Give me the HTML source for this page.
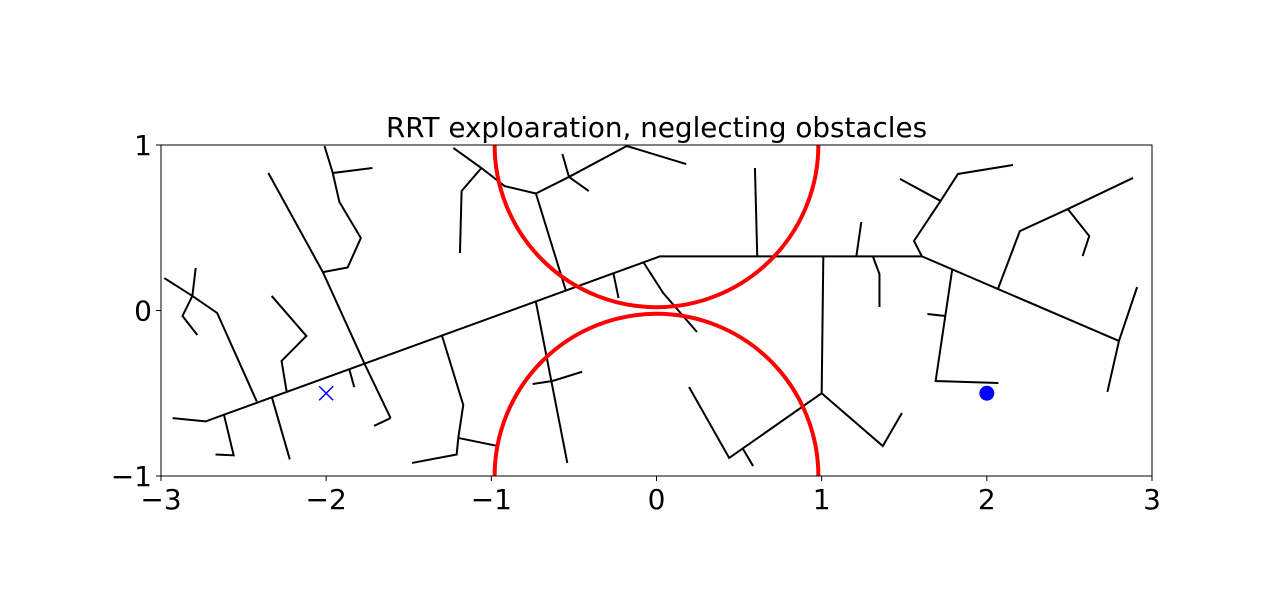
<!DOCTYPE html>
<html><head><meta charset="utf-8"><style>
html,body{margin:0;padding:0;background:#fff;}
svg{display:block;font-family:"DejaVu Sans","Liberation Sans",sans-serif;}
</style></head>
<body>
<svg id="chart" width="1280" height="615" viewBox="0 0 1280 615">
<text x="656.5" y="137" font-size="27.8" text-anchor="middle">RRT exploaration, neglecting obstacles</text>
<g id="plot"></g>
<g id="axes"></g>
</svg>
<script>
const xTicks = [-3, -2, -1, 0, 1, 2, 3];
const yTicks = [-1, 0, 1];
const xTickLabels = ["\u22123", "\u22122", "\u22121", "0", "1", "2", "3"];
const yTickLabels = ["\u22121", "0", "1"];
const obstacleCenters = [[0, 1], [0, -1]];
const obstacleRadii = [0.98, 0.98];
const startPoint = [-2, -0.5];
const goalPoint = [2, -0.5];
const treeBranches = [
  [[-2.93,-0.65],[-2.73,-0.67],[0.02,0.327],[1.607,0.327],[2.80,-0.184]],
  [[-2.62,-0.625],[-2.56,-0.875],[-2.67,-0.87]],
  [[-2.33,-0.52],[-2.22,-0.90]],
  [[-2.42,-0.55],[-2.66,-0.015],[-2.81,0.088],[-2.98,0.196]],
  [[-2.81,0.088],[-2.87,-0.033],[-2.78,-0.148]],
  [[-2.81,0.088],[-2.79,0.257]],
  [[-2.24,-0.486],[-2.27,-0.305],[-2.12,-0.154],[-2.33,0.088]],
  [[-1.86,-0.356],[-1.83,-0.463]],
  [[-1.61,-0.65],[-1.77,-0.317],[-2.02,0.232],[-2.35,0.831]],
  [[-1.61,-0.65],[-1.71,-0.697]],
  [[-2.02,0.232],[-1.87,0.26],[-1.79,0.438],[-1.92,0.656],[-1.96,0.831],[-2.01,0.994]],
  [[-1.96,0.831],[-1.72,0.861]],
  [[-1.30,-0.148],[-1.17,-0.571],[-1.20,-0.770],[-1.21,-0.87],[-1.48,-0.921]],
  [[-1.20,-0.770],[-0.96,-0.819]],
  [[-0.73,0.051],[-0.54,-0.921]],
  [[-0.75,-0.444],[-0.63,-0.426],[-0.45,-0.37]],
  [[-0.55,0.124],[-0.73,0.707],[-0.53,0.807],[-0.18,0.994],[0.18,0.885]],
  [[-0.73,0.707],[-0.92,0.752],[-1.06,0.861],[-1.23,0.982]],
  [[-1.06,0.861],[-1.18,0.722],[-1.19,0.347]],
  [[-0.53,0.807],[-0.57,0.946]],
  [[-0.53,0.807],[-0.41,0.722]],
  [[-0.26,0.22],[-0.23,0.076]],
  [[-0.08,0.293],[0.04,0.106],[0.245,-0.13]],
  [[0.596,0.861],[0.61,0.327]],
  [[1.01,0.327],[1.00,-0.50],[0.44,-0.891],[0.197,-0.462]],
  [[0.52,-0.831],[0.585,-0.94]],
  [[1.00,-0.50],[1.37,-0.819],[1.486,-0.619]],
  [[1.21,0.327],[1.24,0.535]],
  [[1.31,0.327],[1.35,0.22],[1.35,0.021]],
  [[1.607,0.327],[1.559,0.42],[1.72,0.662],[1.825,0.825],[2.158,0.879]],
  [[1.72,0.662],[1.474,0.795]],
  [[2.80,-0.184],[2.91,0.142]],
  [[2.80,-0.184],[2.73,-0.492]],
  [[1.79,0.245],[1.69,-0.426],[2.07,-0.438]],
  [[1.75,-0.033],[1.64,-0.021]],
  [[2.067,0.13],[2.20,0.48],[2.49,0.613],[2.885,0.801]],
  [[2.49,0.613],[2.62,0.45],[2.58,0.329]]
];

const X0 = 161, X1 = 1152, Y0 = 476, Y1 = 145;
function sx(v){ return X0 + (v + 3) / 6 * (X1 - X0); }
function sy(v){ return Y0 - (v + 1) / 2 * (Y0 - Y1); }
const NS = "http://www.w3.org/2000/svg";
const svg = document.getElementById('chart');
const plot = document.getElementById('plot');
const axes = document.getElementById('axes');

const defs = document.createElementNS(NS, 'defs');
defs.innerHTML = '<clipPath id="clip"><rect x="' + X0 + '" y="' + Y1 + '" width="' + (X1 - X0) + '" height="' + (Y0 - Y1) + '"/></clipPath>';
svg.insertBefore(defs, svg.firstChild);
plot.setAttribute('clip-path', 'url(#clip)');

treeBranches.forEach(function(br){
  const pl = document.createElementNS(NS, 'polyline');
  pl.setAttribute('points', br.map(function(p){ return sx(p[0]) + ',' + sy(p[1]); }).join(' '));
  pl.setAttribute('fill', 'none');
  pl.setAttribute('stroke', '#000');
  pl.setAttribute('stroke-width', '2');
  
  
  plot.appendChild(pl);
});

obstacleCenters.forEach(function(c, i){
  const e = document.createElementNS(NS, 'ellipse');
  e.setAttribute('cx', sx(c[0]));
  e.setAttribute('cy', sy(c[1]));
  e.setAttribute('rx', sx(obstacleRadii[i]) - sx(0));
  e.setAttribute('ry', sy(0) - sy(obstacleRadii[i]));
  e.setAttribute('fill', 'none');
  e.setAttribute('stroke', '#ff0000');
  e.setAttribute('stroke-width', '4');
  
  
  plot.appendChild(e);
});

const sxp = sx(startPoint[0]), syp = sy(startPoint[1]);
const cross = document.createElementNS(NS, 'path');
cross.setAttribute('d', 'M' + (sxp - 7) + ',' + (syp - 7) + 'L' + (sxp + 7) + ',' + (syp + 7) + 'M' + (sxp - 7) + ',' + (syp + 7) + 'L' + (sxp + 7) + ',' + (syp - 7));
cross.setAttribute('stroke', '#0000ff');
cross.setAttribute('stroke-width', '1.5');


plot.appendChild(cross);

const dot = document.createElementNS(NS, 'circle');
dot.setAttribute('cx', sx(goalPoint[0]));
dot.setAttribute('cy', sy(goalPoint[1]));
dot.setAttribute('r', '7.5');
dot.setAttribute('fill', '#0000ff');


plot.appendChild(dot);

const frame = document.createElementNS(NS, 'rect');
frame.setAttribute('x', X0); frame.setAttribute('y', Y1);
frame.setAttribute('width', X1 - X0); frame.setAttribute('height', Y0 - Y1);
frame.setAttribute('fill', 'none'); frame.setAttribute('stroke', '#000'); frame.setAttribute('stroke-width', '1');


axes.appendChild(frame);

xTicks.forEach(function(t, i){
  const x = sx(t);
  const l = document.createElementNS(NS, 'line');
  l.setAttribute('x1', x); l.setAttribute('x2', x); l.setAttribute('y1', Y0); l.setAttribute('y2', Y0 + 5);
  l.setAttribute('stroke', '#000');
  
  
  axes.appendChild(l);
  const tx = document.createElementNS(NS, 'text');
  tx.setAttribute('x', x); tx.setAttribute('y', Y0 + 33);
  tx.setAttribute('font-size', '28'); tx.setAttribute('text-anchor', 'middle');
  tx.textContent = xTickLabels[i];
  
  
  axes.appendChild(tx);
});
yTicks.forEach(function(t, i){
  const y = sy(t);
  const l = document.createElementNS(NS, 'line');
  l.setAttribute('x1', X0 - 5); l.setAttribute('x2', X0); l.setAttribute('y1', y); l.setAttribute('y2', y);
  l.setAttribute('stroke', '#000');
  
  
  axes.appendChild(l);
  const tx = document.createElementNS(NS, 'text');
  tx.setAttribute('x', X0 - 9); tx.setAttribute('y', y + 10);
  tx.setAttribute('font-size', '28'); tx.setAttribute('text-anchor', 'end');
  tx.textContent = yTickLabels[i];
  
  
  axes.appendChild(tx);
});
</script>
</body></html>
